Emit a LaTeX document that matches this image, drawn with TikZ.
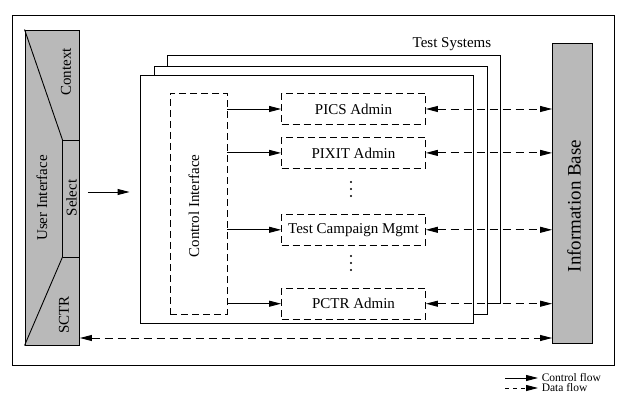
\documentclass[tikz,border=0pt]{standalone}
\usepackage{fontspec}
\setmainfont{Liberation Serif}
\usetikzlibrary{arrows.meta,positioning}

\begin{document}
\begin{tikzpicture}[
    x=1pt, y=-1pt,
    font=\fontsize{15}{17}\selectfont,
    line width=0.9pt,
    shaded/.style={draw, fill=gray!55, inner sep=0pt},
    sysframe/.style={draw, fill=white, minimum width=333pt, minimum height=248pt},
    dbox/.style={draw, dash pattern=on 7pt off 4pt, inner sep=0pt},
    adminbox/.style={dbox, minimum width=144pt, minimum height=31pt},
    dot/.style={circle, fill, inner sep=0pt, minimum size=2.4pt},
    ctrl/.style={-{Triangle[length=12pt,width=6pt]}},
    data/.style={{Triangle[length=12pt,width=6pt]}-{Triangle[length=12pt,width=6pt]}, dash pattern=on 8pt off 5pt},
]
    \useasboundingbox (0,0) rectangle (621,398);
    \draw (12,15) rectangle (614,365);

    % user interface
    \node[shaded, minimum width=54.5pt, minimum height=315pt] (ui) at (52.25,187.5) {};
    \coordinate (selT) at (62.5,140);
    \coordinate (selB) at (62.5,257);
    \draw (ui.north west) -- (selT) -- (selB) -- (ui.south west);
    \draw (selT) -- (selT -| ui.east);
    \draw (selB) -- (selB -| ui.east);
    \node[rotate=90] (uilbl) at (42,198) {User Interface};
    \node[rotate=90] (ctxlbl) at (66,72) {Context};
    \node[rotate=90] (sellbl) at (71.5,198) {Select};
    \node[rotate=90] (sctrlbl) at (64,315) {SCTR};

    % test systems
    \node[sysframe] (ts3) at (334,179) {};
    \node[sysframe] (ts2) at (320.5,190) {};
    \node[sysframe] (ts1) at (306.5,199.5) {};
    \node[anchor=south east] (tslbl) at ([xshift=-6pt]ts3.north east) {Test Systems};

    \node[dbox, minimum width=57pt, minimum height=221pt] (ci) at (198.5,203.5) {};
    \node[rotate=90] (cilbl) at (194,206) {Control Interface};

    \node[adminbox] (pics) at (353.5,109) {PICS Admin};
    \node[adminbox, below=12pt of pics] (pixit) {PIXIT Admin};
    \node[adminbox, below=45pt of pixit] (tcm) {Test Campaign Mgmt};
    \node[adminbox, below=42pt of tcm] (pctr) {PCTR Admin};
    \foreach \y in {182,189,196,256,263,270}
        \node[dot] (d\y) at (351,\y) {};

    % information base
    \node[shaded, minimum width=40pt, minimum height=300pt] (ib) at (572.5,193) {};
    \node[rotate=90, font=\fontsize{19}{21}\selectfont] (iblbl) at (574,206) {Information Base};

    % flows
    \draw[ctrl, shorten <=8pt, shorten >=10pt] ([yshift=-4.5pt]ui.east) -- ([yshift=-4.5pt]ui.east -| ts1.west);
    \foreach \b in {pics,pixit,tcm,pctr} {
        \draw[ctrl] (ci.east |- \b.west) -- (\b.west);
        \draw[data] (\b.east) -- (\b.east -| ib.west);
    }
    \coordinate (sctr) at (ui.east |- 0,338);
    \draw[data] (sctr) -- (sctr -| ib.west);

    % legend
    \draw[ctrl] (505,378) -- ++(33,0) node[right, font=\fontsize{11.5}{12}\selectfont] (cflbl) {Control flow};
    \draw[-{Triangle[length=12pt,width=6pt]}, dash pattern=on 4pt off 4pt] (505,388) -- ++(33,0) node[right, font=\fontsize{11.5}{12}\selectfont] (dflbl) {Data flow};
\end{tikzpicture}
\end{document}
